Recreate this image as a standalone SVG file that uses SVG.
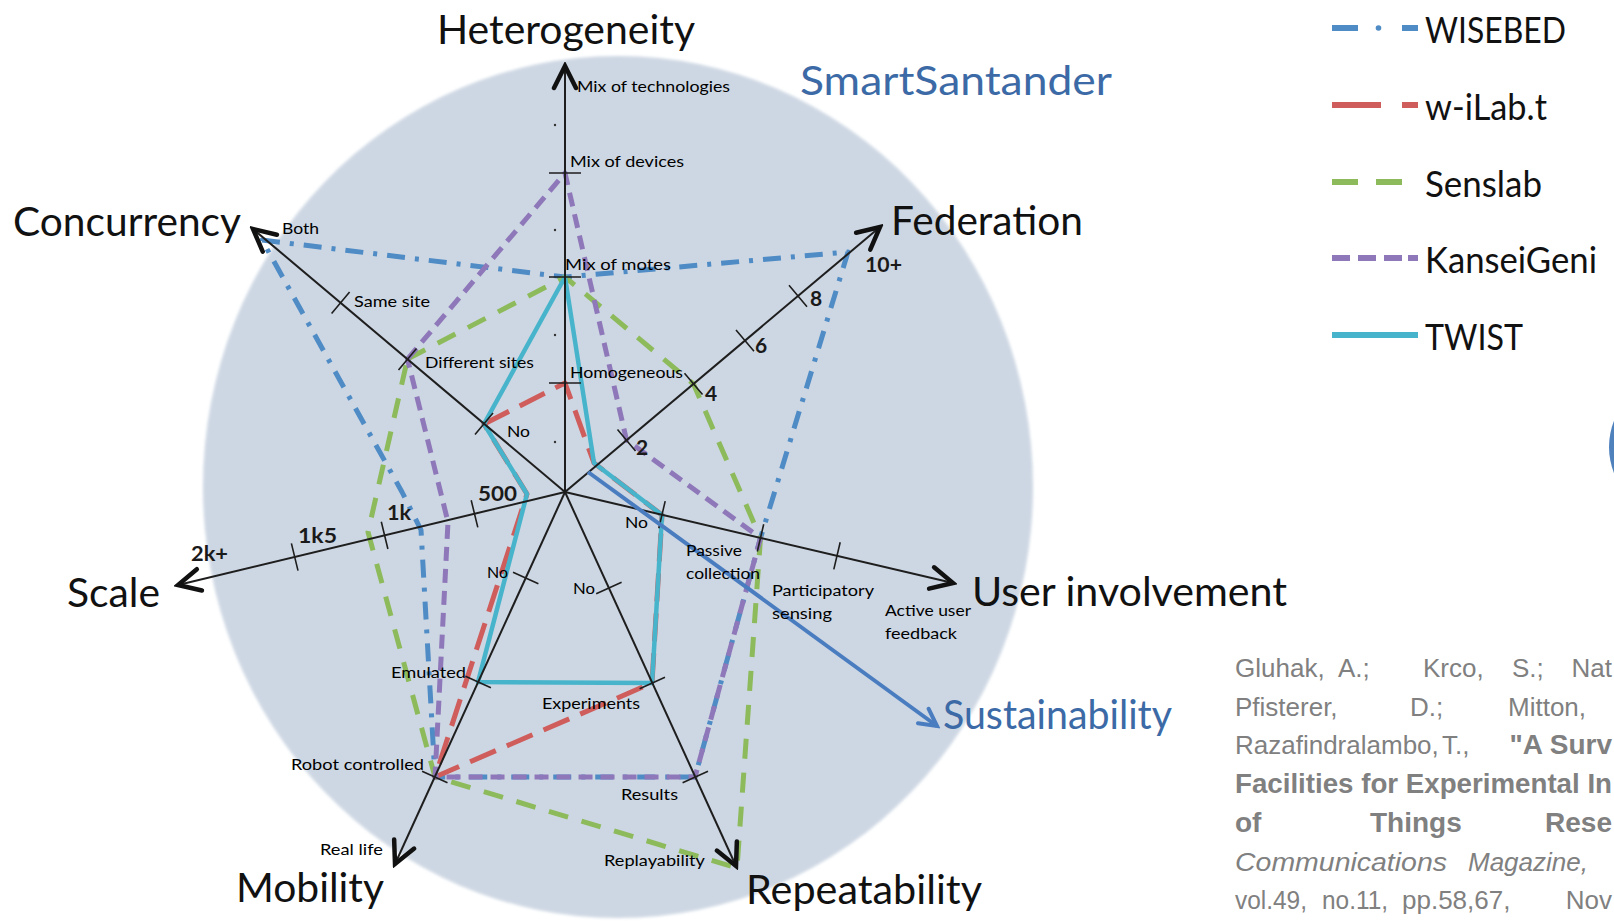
<svg xmlns="http://www.w3.org/2000/svg" width="1614" height="923" viewBox="0 0 1614 923">
<defs>
<style>
.ax{stroke:#1e1e1e;stroke-width:2;fill:none}
.tk{stroke:#1e1e1e;stroke-width:1.6;fill:none}
.big{font-family:Lato,'Liberation Sans',sans-serif;font-size:40px;fill:#111}
.sm{font-family:Lato,'Liberation Sans',sans-serif;font-size:16px;fill:#000}
.num{font-family:Lato,'Liberation Sans',sans-serif;font-size:21px;font-weight:bold;fill:#1a1a1a}
.ser{fill:none;stroke-width:5;stroke-linejoin:round}
.wise{stroke:#4f8bc5;stroke-dasharray:18 10 4 10}
.wil{stroke:#cf5d5c;stroke-dasharray:28 12}
.sens{stroke:#8dbb5b;stroke-dasharray:20 14}
.kan{stroke:#8f78b9;stroke-dasharray:14 8}
.twist{stroke:#47b4cb;stroke-width:4.5}
.leg{font-family:Lato,'Liberation Sans',sans-serif;font-size:36px;fill:#111}
.cit{font-family:'Liberation Sans',Arial,sans-serif;font-size:26px;fill:#808080}
.b{font-weight:bold;font-size:28px}
.blue{font-family:Lato,'Liberation Sans',sans-serif;font-size:40px;fill:#3c6aa6}
.dot{fill:#333}
</style>
<marker id="ah" viewBox="-30 -16 34 32" refX="0" refY="0" markerWidth="34" markerHeight="32" markerUnits="userSpaceOnUse" orient="auto">
<path d="M-22,-11 L0,0 L-22,11" fill="none" stroke="#111" stroke-width="4.5" stroke-linecap="round"/>
</marker>
<marker id="ahb" viewBox="-24 -12 28 24" refX="0" refY="0" markerWidth="28" markerHeight="24" markerUnits="userSpaceOnUse" orient="auto">
<path d="M-17,-9 L0,0 L-17,9" fill="none" stroke="#4a7cc0" stroke-width="4" stroke-linecap="round"/>
</marker>
<filter id="soft" x="-5%" y="-5%" width="110%" height="110%"><feGaussianBlur stdDeviation="1.5"/></filter>
</defs>
<rect width="1614" height="923" fill="#ffffff"/>
<ellipse id="bg" cx="618" cy="487" rx="415" ry="431" fill="#cdd7e3" filter="url(#soft)"/>
<circle id="logo-edge" cx="1680" cy="447" r="71" fill="#4f81bd"/>

<g id="series">
<path id="wisebed" class="ser wise" d="M262,240 L565,277 L848,252 L760.5,538 L695,777 L435,777 L421,530 L402,492 Z"/>
<path id="senslab" class="ser sens" d="M407.5,359 L565,277 L693.5,384 L760.5,538 L737,868 L435,777 L368,532 Z"/>
<path id="wilab" class="ser wil" d="M484,424 L565,383 L594,463 L662,515 L652,683 L435,777 L527,494 Z"/>
<path id="kansei" class="ser kan" d="M407.5,359 L565,173 L626.5,440 L760.5,538 L695,777 L435,777 L448,522 Z"/>
<path id="twist" class="ser twist" d="M484,424 L565,277 L594,463 L662,515 L652,683 L478,682 L527,494 Z"/>
</g>

<g id="axes">
<line id="ax-het" class="ax" x1="565" y1="492" x2="565" y2="66" marker-end="url(#ah)"/>
<line id="ax-conc" class="ax" x1="565" y1="492" x2="253" y2="229" marker-end="url(#ah)"/>
<line id="ax-fed" class="ax" x1="565" y1="492" x2="880" y2="227" marker-end="url(#ah)"/>
<line id="ax-user" class="ax" x1="565" y1="492" x2="953" y2="583" marker-end="url(#ah)"/>
<line id="ax-scale" class="ax" x1="565" y1="492" x2="178" y2="585" marker-end="url(#ah)"/>
<line id="ax-mob" class="ax" x1="565" y1="492" x2="395" y2="864" marker-end="url(#ah)"/>
<line id="ax-rep" class="ax" x1="565" y1="492" x2="736" y2="866" marker-end="url(#ah)"/>
<g id="ticks">
<path class="tk" d="M549,173H581M549,277H581M549,383H581
M475,434.4L493,413M398.5,369.9L416.5,348.5M331.6,313.5L349.6,292.1
M617.5,429.5L635.5,450.9M684.5,373.2L702.5,394.6M736,329.9L754,351.3M789,285.3L807,306.7
M665.2,501.1L658.8,528.3M763.7,524.3L757.3,551.5M840.2,542.2L833.8,569.4
M471.2,500.2L477.8,527.4M381.3,521.8L387.9,549M291.4,543.4L298,570.6
M513,572.2L538.4,583.8M465.5,676.2L490.9,687.8M422.1,771.2L447.5,782.8
M596.2,593.8L621.6,582.2M639.6,688.8L665,677.2M682.6,782.8L708,771.2"/>
<circle class="dot" cx="555" cy="125" r="1.2"/>
<circle class="dot" cx="555" cy="230" r="1.2"/>
<circle class="dot" cx="555" cy="335" r="1.2"/>
<circle class="dot" cx="555" cy="442" r="1.2"/>
</g>
</g>

<g id="sustainability">
<line x1="588" y1="472" x2="937" y2="726" stroke="#4a7cc0" stroke-width="4" marker-end="url(#ahb)"/>
<text class="blue" x="943" y="729" font-size="37" textLength="229" lengthAdjust="spacingAndGlyphs">Sustainability</text>
</g>
<text id="smartsantander" class="blue" x="800" y="95" textLength="312" lengthAdjust="spacingAndGlyphs">SmartSantander</text>

<g id="axis-titles">
<text class="big" x="437" y="44" textLength="258" lengthAdjust="spacingAndGlyphs">Heterogeneity</text>
<text class="big" x="13" y="236" textLength="228" lengthAdjust="spacingAndGlyphs">Concurrency</text>
<text class="big" x="891" y="235" textLength="192" lengthAdjust="spacingAndGlyphs">Federation</text>
<text class="big" x="67" y="607" textLength="93" lengthAdjust="spacingAndGlyphs">Scale</text>
<text class="big" x="972" y="606" textLength="315" lengthAdjust="spacingAndGlyphs">User involvement</text>
<text class="big" x="236" y="902" textLength="148" lengthAdjust="spacingAndGlyphs">Mobility</text>
<text class="big" x="746" y="904" textLength="236" lengthAdjust="spacingAndGlyphs">Repeatability</text>
</g>

<g id="tick-labels">
<text class="sm" x="577" y="92" textLength="153" lengthAdjust="spacingAndGlyphs">Mix of technologies</text>
<text class="sm" x="570" y="167" textLength="114" lengthAdjust="spacingAndGlyphs">Mix of devices</text>
<text class="sm" x="565" y="270" textLength="106" lengthAdjust="spacingAndGlyphs">Mix of motes</text>
<text class="sm" x="570" y="378" textLength="113" lengthAdjust="spacingAndGlyphs">Homogeneous</text>
<text class="sm" x="282" y="234" textLength="37" lengthAdjust="spacingAndGlyphs">Both</text>
<text class="sm" x="354" y="307" textLength="76" lengthAdjust="spacingAndGlyphs">Same site</text>
<text class="sm" x="425" y="368" textLength="109" lengthAdjust="spacingAndGlyphs">Different sites</text>
<text class="sm" x="507" y="437" textLength="23" lengthAdjust="spacingAndGlyphs">No</text>
<text class="num" x="636" y="455">2</text>
<text class="num" x="705" y="401">4</text>
<text class="num" x="755" y="353">6</text>
<text class="num" x="810" y="306">8</text>
<text class="num" x="865" y="272" font-size="19" textLength="37" lengthAdjust="spacingAndGlyphs">10+</text>
<text class="sm" x="625" y="528" textLength="23" lengthAdjust="spacingAndGlyphs">No</text>
<text class="sm" x="686" y="556" textLength="56" lengthAdjust="spacingAndGlyphs">Passive</text>
<text class="sm" x="686" y="579" textLength="74" lengthAdjust="spacingAndGlyphs">collection</text>
<text class="sm" x="772" y="596" textLength="102" lengthAdjust="spacingAndGlyphs">Participatory</text>
<text class="sm" x="772" y="619" textLength="60" lengthAdjust="spacingAndGlyphs">sensing</text>
<text class="sm" x="885" y="616" textLength="86" lengthAdjust="spacingAndGlyphs">Active user</text>
<text class="sm" x="885" y="639" textLength="72" lengthAdjust="spacingAndGlyphs">feedback</text>
<text class="num" x="478" y="501" textLength="39" lengthAdjust="spacingAndGlyphs">500</text>
<text class="num" x="387" y="520" textLength="24" lengthAdjust="spacingAndGlyphs">1k</text>
<text class="num" x="298" y="543" textLength="39" lengthAdjust="spacingAndGlyphs">1k5</text>
<text class="num" x="191" y="561" textLength="37" lengthAdjust="spacingAndGlyphs">2k+</text>
<text class="sm" x="487" y="578" textLength="21" lengthAdjust="spacingAndGlyphs">No</text>
<text class="sm" x="391" y="678" textLength="75" lengthAdjust="spacingAndGlyphs">Emulated</text>
<text class="sm" x="291" y="770" textLength="133" lengthAdjust="spacingAndGlyphs">Robot controlled</text>
<text class="sm" x="320" y="855" textLength="63" lengthAdjust="spacingAndGlyphs">Real life</text>
<text class="sm" x="573" y="594" textLength="22" lengthAdjust="spacingAndGlyphs">No</text>
<text class="sm" x="542" y="709" textLength="98" lengthAdjust="spacingAndGlyphs">Experiments</text>
<text class="sm" x="621" y="800" textLength="57" lengthAdjust="spacingAndGlyphs">Results</text>
<text class="sm" x="604" y="866" textLength="101" lengthAdjust="spacingAndGlyphs">Replayability</text>
</g>

<g id="legend">
<g id="leg-wisebed">
<path d="M1332,28H1358M1402,28H1418" stroke="#4f8bc5" stroke-width="6"/>
<circle cx="1378.5" cy="28" r="2.8" fill="#4f8bc5"/>
<text class="leg" x="1425" y="43" textLength="141" lengthAdjust="spacingAndGlyphs">WISEBED</text>
</g>
<g id="leg-wilab">
<path d="M1332,105H1381M1402,105H1418" stroke="#cf5d5c" stroke-width="6"/>
<text class="leg" x="1425" y="120" textLength="122" lengthAdjust="spacingAndGlyphs">w-iLab.t</text>
</g>
<g id="leg-senslab">
<path d="M1332,182H1358M1376,182H1402" stroke="#8dbb5b" stroke-width="6"/>
<text class="leg" x="1425" y="197" textLength="117" lengthAdjust="spacingAndGlyphs">Senslab</text>
</g>
<g id="leg-kansei">
<path d="M1332,258H1350M1358,258H1376M1384,258H1402M1408,258H1418" stroke="#8f78b9" stroke-width="6"/>
<text class="leg" x="1425" y="273" textLength="172" lengthAdjust="spacingAndGlyphs">KanseiGeni</text>
</g>
<g id="leg-twist">
<path d="M1332,335H1418" stroke="#47b4cb" stroke-width="6"/>
<text class="leg" x="1425" y="350" textLength="98" lengthAdjust="spacingAndGlyphs">TWIST</text>
</g>
</g>

<g id="citation" class="cit">
<text x="1235" y="677">Gluhak,</text>
<text x="1338" y="677">A.;</text>
<text x="1423" y="677">Krco,</text>
<text x="1512" y="677">S.;</text>
<text x="1612" y="677" text-anchor="end">Nat</text>
<text x="1235" y="716">Pfisterer,</text>
<text x="1410" y="716">D.;</text>
<text x="1508" y="716">Mitton,</text>
<text x="1235" y="754">Razafindralambo,</text>
<text x="1442" y="754">T.,</text>
<text x="1612" y="754" class="b" text-anchor="end">"A Surv</text>
<text x="1235" y="793" class="b" textLength="377" lengthAdjust="spacingAndGlyphs">Facilities for Experimental In</text>
<text x="1235" y="832" class="b">of</text>
<text x="1370" y="832" class="b">Things</text>
<text x="1612" y="832" class="b" text-anchor="end">Rese</text>
<text x="1235" y="871" font-style="italic" textLength="212" lengthAdjust="spacingAndGlyphs">Communications</text>
<text x="1468" y="871" font-style="italic">Magazine,</text>
<text x="1235" y="909" textLength="72" lengthAdjust="spacingAndGlyphs">vol.49,</text>
<text x="1322" y="909" textLength="66" lengthAdjust="spacingAndGlyphs">no.11,</text>
<text x="1402" y="909">pp.58,67,</text>
<text x="1612" y="909" text-anchor="end">Nov</text>
</g>
</svg>
